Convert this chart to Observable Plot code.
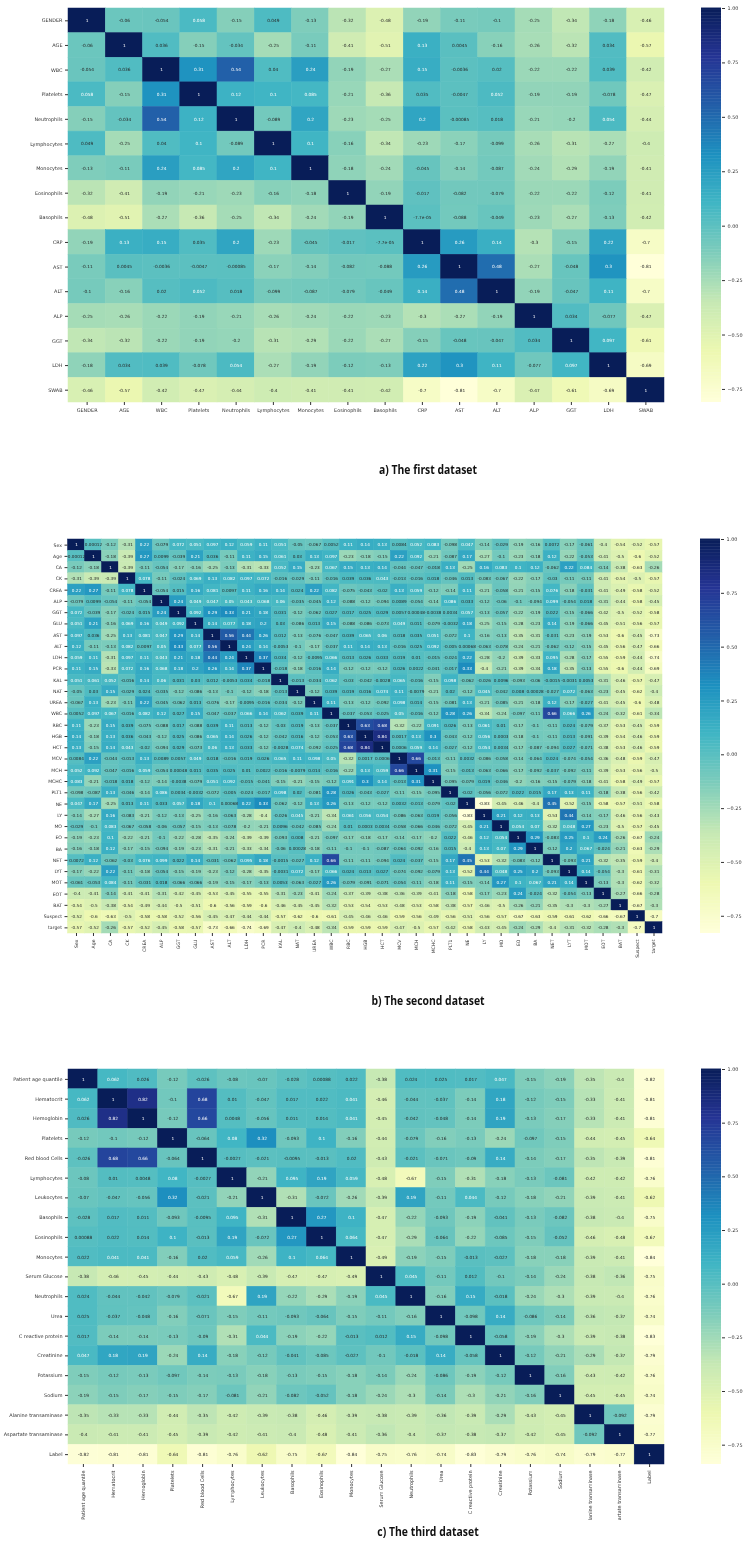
<!DOCTYPE html>
<html>
<head>
<meta charset="utf-8">
<script src="https://cdn.jsdelivr.net/npm/d3@7"></script>
<script src="https://cdn.jsdelivr.net/npm/@observablehq/plot@0.6"></script>
<style>
html,body{margin:0;padding:0;background:#fff}
#page{position:relative;width:746px;height:1545px;overflow:hidden;filter:blur(0.3px)}
#page svg{position:absolute;background:transparent}
.cap{position:absolute;left:228px;width:400px;text-align:center;font:bold 13px "Open Sans",sans-serif;color:#111;transform:scaleX(.8);white-space:nowrap}
</style>
</head>
<body>
<div id="page"></div>
<script>
const brewer = ["#ffffd9","#edf8b1","#c7e9b4","#7fcdbb","#41b6c4","#1d91c0","#225ea8","#253494","#081d58"];
const colorbarTicks = [-0.75,-0.5,-0.25,0,0.25,0.5,0.75,1];

const namesA = ["GENDER","AGE","WBC","Platelets","Neutrophils","Lymphocytes","Monocytes","Eosinophils","Basophils","CRP","AST","ALT","ALP","GGT","LDH","SWAB"];
const rowsA = [
[1,-0.06,-0.054,0.058,-0.15,0.049,-0.13,-0.32,-0.48,-0.19,-0.11,-0.1,-0.25,-0.34,-0.18,-0.46],
[-0.06,1,0.036,-0.15,-0.034,-0.25,-0.11,-0.41,-0.51,0.13,0.0045,-0.16,-0.26,-0.32,0.034,-0.57],
[-0.054,0.036,1,0.31,0.54,0.04,0.24,-0.19,-0.27,0.15,-0.0036,0.02,-0.22,-0.22,0.039,-0.42],
[0.058,-0.15,0.31,1,0.12,0.1,0.085,-0.21,-0.36,0.035,-0.0047,0.052,-0.19,-0.19,-0.078,-0.47],
[-0.15,-0.034,0.54,0.12,1,-0.089,0.2,-0.23,-0.25,0.2,-0.00085,0.018,-0.21,-0.2,0.054,-0.44],
[0.049,-0.25,0.04,0.1,-0.089,1,0.1,-0.16,-0.34,-0.23,-0.17,-0.099,-0.26,-0.31,-0.27,-0.4],
[-0.13,-0.11,0.24,0.085,0.2,0.1,1,-0.18,-0.24,-0.045,-0.14,-0.087,-0.24,-0.29,-0.19,-0.41],
[-0.32,-0.41,-0.19,-0.21,-0.23,-0.16,-0.18,1,-0.19,-0.017,-0.082,-0.079,-0.22,-0.22,-0.12,-0.41],
[-0.48,-0.51,-0.27,-0.36,-0.25,-0.34,-0.24,-0.19,1,-7.7e-05,-0.088,-0.049,-0.23,-0.27,-0.13,-0.42],
[-0.19,0.13,0.15,0.035,0.2,-0.23,-0.045,-0.017,-7.7e-05,1,0.26,0.14,-0.3,-0.15,0.22,-0.7],
[-0.11,0.0045,-0.0036,-0.0047,-0.00085,-0.17,-0.14,-0.082,-0.088,0.26,1,0.48,-0.27,-0.048,0.3,-0.81],
[-0.1,-0.16,0.02,0.052,0.018,-0.099,-0.087,-0.079,-0.049,0.14,0.48,1,-0.19,-0.047,0.11,-0.7],
[-0.25,-0.26,-0.22,-0.19,-0.21,-0.26,-0.24,-0.22,-0.23,-0.3,-0.27,-0.19,1,0.034,-0.077,-0.47],
[-0.34,-0.32,-0.22,-0.19,-0.2,-0.31,-0.29,-0.22,-0.27,-0.15,-0.048,-0.047,0.034,1,0.097,-0.61],
[-0.18,0.034,0.039,-0.078,0.054,-0.27,-0.19,-0.12,-0.13,0.22,0.3,0.11,-0.077,0.097,1,-0.69],
[-0.46,-0.57,-0.42,-0.47,-0.44,-0.4,-0.41,-0.41,-0.42,-0.7,-0.81,-0.7,-0.47,-0.61,-0.69,1]
];

const namesB = ["Sex","Age","CA","CK","CREA","ALP","GGT","GLU","AST","ALT","LDH","PCR","KAL","NAT","UREA","WBC","RBC","HGB","HCT","MCV","MCH","MCHC","PLT1","NE","LY","MO","EO","BA","NET","LYT","MOT","EOT","BAT","Suspect","target"];
const rowsB = [
[1,0.00012,-0.12,-0.31,0.22,-0.079,0.072,0.051,0.097,0.12,0.059,0.11,0.051,-0.05,-0.067,0.0052,0.11,0.14,0.13,0.0084,0.052,0.083,-0.098,0.047,-0.14,-0.029,-0.19,-0.16,0.0072,-0.17,-0.061,-0.4,-0.54,-0.52,-0.57],
[0.00012,1,-0.18,-0.39,0.27,0.0099,-0.039,0.21,0.036,-0.11,0.11,0.15,0.061,0.03,0.13,0.097,-0.23,-0.18,-0.15,0.22,0.092,-0.21,-0.087,0.17,-0.27,-0.1,-0.23,-0.18,0.12,-0.22,-0.053,-0.41,-0.5,-0.6,-0.52],
[-0.12,-0.18,1,-0.39,-0.11,-0.054,-0.17,-0.16,-0.25,-0.13,-0.31,-0.33,0.052,0.15,-0.23,0.067,0.15,0.13,0.14,-0.044,-0.047,-0.018,0.13,-0.25,0.16,0.083,0.1,0.12,-0.062,0.22,0.084,-0.14,-0.38,-0.63,-0.26],
[-0.31,-0.39,-0.39,1,0.078,-0.11,-0.024,0.069,0.13,0.082,0.097,0.072,-0.016,-0.029,-0.11,-0.016,0.039,0.036,0.043,-0.013,-0.016,0.018,-0.046,0.013,-0.083,-0.067,-0.22,-0.17,-0.03,-0.11,-0.11,-0.41,-0.54,-0.5,-0.57],
[0.22,0.27,-0.11,0.078,1,-0.054,0.015,0.16,0.081,0.0097,0.11,0.16,0.14,0.024,0.22,0.082,-0.075,-0.043,-0.02,0.13,0.059,-0.12,-0.14,0.11,-0.21,-0.058,-0.21,-0.15,0.076,-0.18,-0.031,-0.41,-0.49,-0.58,-0.52],
[-0.079,0.0099,-0.054,-0.11,-0.054,1,0.24,0.049,0.047,0.05,0.043,0.068,0.06,-0.035,-0.045,0.12,-0.088,-0.12,-0.094,0.0089,-0.054,-0.14,0.086,0.033,-0.12,-0.06,-0.1,-0.094,0.099,-0.054,0.018,-0.31,-0.44,-0.58,-0.45],
[0.072,-0.039,-0.17,-0.024,0.015,0.24,1,0.092,0.29,0.33,0.21,0.18,0.031,-0.12,-0.062,0.027,0.017,0.025,0.029,0.0057,0.00048,-0.0038,0.0034,0.057,-0.13,-0.057,-0.22,-0.19,0.022,-0.15,-0.066,-0.42,-0.5,-0.52,-0.58],
[0.051,0.21,-0.16,0.069,0.16,0.049,0.092,1,0.14,0.077,0.18,0.2,0.03,-0.086,0.013,0.15,-0.088,-0.086,-0.073,0.049,0.011,-0.079,-0.0032,0.18,-0.25,-0.15,-0.28,-0.23,0.14,-0.19,-0.066,-0.45,-0.51,-0.56,-0.57],
[0.097,0.036,-0.25,0.13,0.081,0.047,0.29,0.14,1,0.56,0.44,0.26,0.012,-0.13,-0.076,-0.047,0.039,0.065,0.06,0.018,0.035,0.051,-0.072,0.1,-0.16,-0.13,-0.35,-0.31,-0.031,-0.23,-0.19,-0.53,-0.6,-0.45,-0.73],
[0.12,-0.11,-0.13,0.082,0.0097,0.05,0.33,0.077,0.56,1,0.24,0.14,-0.0053,-0.1,-0.17,-0.037,0.11,0.14,0.13,-0.016,0.025,0.092,-0.005,0.00068,-0.063,-0.078,-0.24,-0.21,-0.062,-0.12,-0.15,-0.45,-0.56,-0.47,-0.66],
[0.059,0.11,-0.31,0.097,0.11,0.043,0.21,0.18,0.44,0.24,1,0.37,0.034,-0.12,-0.0095,0.066,0.013,0.026,0.033,0.019,0.01,-0.015,-0.024,0.22,-0.28,-0.2,-0.39,-0.33,0.095,-0.28,-0.17,-0.55,-0.59,-0.44,-0.74],
[0.11,0.15,-0.33,0.072,0.16,0.068,0.18,0.2,0.26,0.14,0.37,1,-0.018,-0.18,-0.016,0.14,-0.12,-0.12,-0.12,0.026,0.0022,-0.041,-0.017,0.33,-0.4,-0.21,-0.39,-0.34,0.18,-0.35,-0.13,-0.55,-0.6,-0.44,-0.69],
[0.051,0.061,0.052,-0.016,0.14,0.06,0.031,0.03,0.012,-0.0053,0.034,-0.018,1,-0.013,-0.034,0.062,-0.03,-0.042,-0.0028,0.065,-0.016,-0.15,0.098,-0.062,-0.026,0.0096,-0.093,-0.06,-0.0015,-0.0031,0.0053,-0.31,-0.46,-0.57,-0.47],
[-0.05,0.03,0.15,-0.029,0.024,-0.035,-0.12,-0.086,-0.13,-0.1,-0.12,-0.18,-0.013,1,-0.12,0.039,0.019,0.016,0.074,0.11,-0.0079,-0.21,0.02,-0.12,0.045,-0.042,0.008,0.00028,-0.027,0.072,-0.063,-0.23,-0.45,-0.62,-0.4],
[-0.067,0.13,-0.23,-0.11,0.22,-0.045,-0.062,0.013,-0.076,-0.17,-0.0095,-0.016,-0.034,-0.12,1,0.11,-0.13,-0.12,-0.092,0.098,0.014,-0.15,-0.081,0.13,-0.21,-0.085,-0.21,-0.18,0.12,-0.17,-0.027,-0.41,-0.45,-0.6,-0.48],
[0.0052,0.097,0.067,-0.016,0.082,0.12,0.027,0.15,-0.047,-0.037,0.066,0.14,0.062,0.039,0.11,1,-0.037,-0.053,-0.025,0.05,-0.016,-0.12,0.28,0.26,-0.34,-0.24,-0.097,-0.11,0.66,0.066,0.26,-0.24,-0.32,-0.61,-0.34],
[0.11,-0.23,0.15,0.039,-0.075,-0.088,0.017,-0.088,0.039,0.11,0.013,-0.12,-0.03,0.019,-0.13,-0.037,1,0.63,0.68,-0.32,-0.22,0.091,0.026,-0.13,0.061,0.01,-0.17,-0.1,-0.11,0.024,-0.079,-0.37,-0.53,-0.45,-0.59],
[0.14,-0.18,0.13,0.036,-0.043,-0.12,0.025,-0.086,0.065,0.14,0.026,-0.12,-0.042,0.016,-0.12,-0.053,0.63,1,0.84,0.0017,0.13,0.3,-0.043,-0.12,0.056,0.0003,-0.18,-0.1,-0.11,0.013,-0.091,-0.39,-0.54,-0.46,-0.59],
[0.13,-0.15,0.14,0.043,-0.02,-0.094,0.029,-0.073,0.06,0.13,0.033,-0.12,-0.0028,0.074,-0.092,-0.025,0.68,0.84,1,0.0006,0.059,0.14,-0.027,-0.12,0.054,0.0034,-0.17,-0.087,-0.094,0.027,-0.071,-0.38,-0.53,-0.46,-0.59],
[0.0084,0.22,-0.044,-0.013,0.13,0.0089,0.0057,0.049,0.018,-0.016,0.019,0.026,0.065,0.11,0.098,0.05,-0.32,0.0017,0.0006,1,0.66,-0.013,-0.11,0.0032,-0.086,-0.058,-0.14,-0.064,0.024,-0.074,-0.054,-0.36,-0.48,-0.59,-0.47],
[0.052,0.092,-0.047,-0.016,0.059,-0.054,0.00048,0.011,0.035,0.025,0.01,0.0022,-0.016,-0.0079,0.014,-0.016,-0.22,0.13,0.059,0.66,1,0.31,-0.15,-0.013,-0.063,-0.066,-0.17,-0.092,-0.037,-0.092,-0.11,-0.39,-0.53,-0.56,-0.5],
[0.083,-0.21,-0.018,0.018,-0.12,-0.14,-0.0038,-0.079,0.051,0.092,-0.015,-0.041,-0.15,-0.21,-0.15,-0.12,0.091,0.3,0.14,-0.013,0.31,1,-0.095,-0.079,0.019,-0.046,-0.2,-0.16,-0.15,-0.079,-0.18,-0.41,-0.58,-0.49,-0.57],
[-0.098,-0.087,0.13,-0.046,-0.14,0.086,0.0034,-0.0032,-0.072,-0.005,-0.024,-0.017,0.098,0.02,-0.081,0.28,0.026,-0.043,-0.027,-0.11,-0.15,-0.095,1,-0.02,-0.056,-0.072,0.022,0.015,0.17,0.13,0.11,-0.18,-0.38,-0.56,-0.42],
[0.047,0.17,-0.25,0.013,0.11,0.033,0.057,0.18,0.1,0.00068,0.22,0.33,-0.062,-0.12,0.13,0.26,-0.13,-0.12,-0.12,0.0032,-0.013,-0.079,-0.02,1,-0.83,-0.45,-0.46,-0.4,0.45,-0.52,-0.15,-0.58,-0.57,-0.51,-0.58],
[-0.14,-0.27,0.16,-0.083,-0.21,-0.12,-0.13,-0.25,-0.16,-0.063,-0.28,-0.4,-0.026,0.045,-0.21,-0.34,0.061,0.056,0.054,-0.086,-0.063,0.019,-0.056,-0.83,1,0.21,0.12,0.13,-0.53,0.44,-0.14,-0.17,-0.46,-0.56,-0.43],
[-0.029,-0.1,0.083,-0.067,-0.058,-0.06,-0.057,-0.15,-0.13,-0.078,-0.2,-0.21,0.0096,-0.042,-0.085,-0.24,0.01,0.0003,0.0034,-0.058,-0.066,-0.046,-0.072,-0.45,0.21,1,0.054,0.07,-0.32,0.048,0.27,-0.23,-0.5,-0.57,-0.45],
[-0.19,-0.23,0.1,-0.22,-0.21,-0.1,-0.22,-0.28,-0.35,-0.24,-0.39,-0.39,-0.093,0.008,-0.21,-0.097,-0.17,-0.18,-0.17,-0.14,-0.17,-0.2,0.022,-0.46,0.12,0.054,1,0.29,-0.083,0.25,0.1,0.24,-0.26,-0.67,-0.24],
[-0.16,-0.18,0.12,-0.17,-0.15,-0.094,-0.19,-0.23,-0.31,-0.21,-0.33,-0.34,-0.06,0.00028,-0.18,-0.11,-0.1,-0.1,-0.087,-0.064,-0.092,-0.16,0.015,-0.4,0.13,0.07,0.29,1,-0.12,0.2,0.067,-0.024,-0.21,-0.63,-0.29],
[0.0072,0.12,-0.062,-0.03,0.076,0.099,0.022,0.14,-0.031,-0.062,0.095,0.18,-0.0015,-0.027,0.12,0.66,-0.11,-0.11,-0.094,0.024,-0.037,-0.15,0.17,0.45,-0.53,-0.32,-0.083,-0.12,1,-0.093,0.21,-0.32,-0.35,-0.59,-0.4],
[-0.17,-0.22,0.22,-0.11,-0.18,-0.054,-0.15,-0.19,-0.23,-0.12,-0.28,-0.35,-0.0031,0.072,-0.17,0.066,0.024,0.013,0.027,-0.074,-0.092,-0.079,0.13,-0.52,0.44,0.048,0.25,0.2,-0.093,1,0.14,-0.054,-0.3,-0.61,-0.31],
[-0.061,-0.053,0.084,-0.11,-0.031,0.018,-0.066,-0.066,-0.19,-0.15,-0.17,-0.13,0.0053,-0.063,-0.027,0.26,-0.079,-0.091,-0.071,-0.054,-0.11,-0.18,0.11,-0.15,-0.14,0.27,0.1,0.067,0.21,0.14,1,-0.13,-0.3,-0.62,-0.32],
[-0.4,-0.41,-0.14,-0.41,-0.41,-0.31,-0.42,-0.45,-0.53,-0.45,-0.55,-0.55,-0.31,-0.23,-0.41,-0.24,-0.37,-0.39,-0.38,-0.36,-0.39,-0.41,-0.18,-0.58,-0.17,-0.23,0.24,-0.024,-0.32,-0.054,-0.13,1,-0.27,-0.66,-0.28],
[-0.54,-0.5,-0.38,-0.54,-0.49,-0.44,-0.5,-0.51,-0.6,-0.56,-0.59,-0.6,-0.46,-0.45,-0.45,-0.32,-0.53,-0.54,-0.53,-0.48,-0.53,-0.58,-0.38,-0.57,-0.46,-0.5,-0.26,-0.21,-0.35,-0.3,-0.3,-0.27,1,-0.67,-0.3],
[-0.52,-0.6,-0.63,-0.5,-0.58,-0.58,-0.52,-0.56,-0.45,-0.47,-0.44,-0.44,-0.57,-0.62,-0.6,-0.61,-0.45,-0.46,-0.46,-0.59,-0.56,-0.49,-0.56,-0.51,-0.56,-0.57,-0.67,-0.63,-0.59,-0.61,-0.62,-0.66,-0.67,1,-0.7],
[-0.57,-0.52,-0.26,-0.57,-0.52,-0.45,-0.58,-0.57,-0.73,-0.66,-0.74,-0.69,-0.47,-0.4,-0.48,-0.34,-0.59,-0.59,-0.59,-0.47,-0.5,-0.57,-0.42,-0.58,-0.43,-0.45,-0.24,-0.29,-0.4,-0.31,-0.32,-0.28,-0.3,-0.7,1]
];

const namesC = ["Patient age quantile","Hematocrit","Hemoglobin","Platelets","Red blood Cells","Lymphocytes","Leukocytes","Basophils","Eosinophils","Monocytes","Serum Glucose","Neutrophils","Urea","C reactive protein","Creatinine","Potassium","Sodium","Alanine transaminase","Aspartate transaminase","Label"];
const xLabelsC = ["Patient age quantile","Hematocrit","Hemoglobin","Platelets","Red blood Cells","Lymphocytes","Leukocytes","Basophils","Eosinophils","Monocytes","Serum Glucose","Neutrophils","Urea","C reactive protein","Creatinine","Potassium","Sodium","lanine transaminase","artate transaminase","Label"];
const rowsC = [
[1,0.062,0.026,-0.12,-0.026,-0.08,-0.07,-0.028,0.00088,0.022,-0.38,0.024,0.025,0.017,0.047,-0.15,-0.19,-0.35,-0.4,-0.82],
[0.062,1,0.82,-0.1,0.68,0.01,-0.047,0.017,0.022,0.041,-0.46,-0.044,-0.037,-0.14,0.18,-0.12,-0.15,-0.33,-0.41,-0.81],
[0.026,0.82,1,-0.12,0.66,0.0048,-0.056,0.011,0.014,0.041,-0.45,-0.042,-0.048,-0.14,0.19,-0.13,-0.17,-0.33,-0.41,-0.81],
[-0.12,-0.1,-0.12,1,-0.064,0.08,0.32,-0.093,0.1,-0.16,-0.44,-0.079,-0.16,-0.13,-0.24,-0.097,-0.15,-0.44,-0.45,-0.64],
[-0.026,0.68,0.66,-0.064,1,-0.0027,-0.021,-0.0095,-0.013,0.02,-0.43,-0.021,-0.071,-0.09,0.14,-0.14,-0.17,-0.35,-0.39,-0.81],
[-0.08,0.01,0.0048,0.08,-0.0027,1,-0.21,0.095,0.19,0.059,-0.48,-0.67,-0.15,-0.31,-0.18,-0.13,-0.081,-0.42,-0.42,-0.76],
[-0.07,-0.047,-0.056,0.32,-0.021,-0.21,1,-0.31,-0.072,-0.26,-0.39,0.19,-0.11,0.044,-0.12,-0.18,-0.21,-0.39,-0.41,-0.62],
[-0.028,0.017,0.011,-0.093,-0.0095,0.095,-0.31,1,0.27,0.1,-0.47,-0.22,-0.093,-0.19,-0.041,-0.13,-0.082,-0.38,-0.4,-0.75],
[0.00088,0.022,0.014,0.1,-0.013,0.19,-0.072,0.27,1,0.064,-0.47,-0.29,-0.064,-0.22,-0.085,-0.15,-0.052,-0.46,-0.48,-0.67],
[0.022,0.041,0.041,-0.16,0.02,0.059,-0.26,0.1,0.064,1,-0.49,-0.19,-0.15,-0.013,-0.027,-0.18,-0.18,-0.39,-0.41,-0.84],
[-0.38,-0.46,-0.45,-0.44,-0.43,-0.48,-0.39,-0.47,-0.47,-0.49,1,0.045,-0.11,0.012,-0.1,-0.14,-0.24,-0.38,-0.36,-0.75],
[0.024,-0.044,-0.042,-0.079,-0.021,-0.67,0.19,-0.22,-0.29,-0.19,0.045,1,-0.16,0.15,-0.018,-0.24,-0.3,-0.39,-0.4,-0.76],
[0.025,-0.037,-0.048,-0.16,-0.071,-0.15,-0.11,-0.093,-0.064,-0.15,-0.11,-0.16,1,-0.098,0.14,-0.086,-0.14,-0.36,-0.37,-0.74],
[0.017,-0.14,-0.14,-0.13,-0.09,-0.31,0.044,-0.19,-0.22,-0.013,0.012,0.15,-0.098,1,-0.058,-0.19,-0.3,-0.39,-0.38,-0.83],
[0.047,0.18,0.19,-0.24,0.14,-0.18,-0.12,-0.041,-0.085,-0.027,-0.1,-0.018,0.14,-0.058,1,-0.12,-0.21,-0.29,-0.37,-0.79],
[-0.15,-0.12,-0.13,-0.097,-0.14,-0.13,-0.18,-0.13,-0.15,-0.18,-0.14,-0.24,-0.086,-0.19,-0.12,1,-0.16,-0.43,-0.42,-0.76],
[-0.19,-0.15,-0.17,-0.15,-0.17,-0.081,-0.21,-0.082,-0.052,-0.18,-0.24,-0.3,-0.14,-0.3,-0.21,-0.16,1,-0.45,-0.45,-0.74],
[-0.35,-0.33,-0.33,-0.44,-0.35,-0.42,-0.39,-0.38,-0.46,-0.39,-0.38,-0.39,-0.36,-0.39,-0.29,-0.43,-0.45,1,-0.092,-0.79],
[-0.4,-0.41,-0.41,-0.45,-0.39,-0.42,-0.41,-0.4,-0.48,-0.41,-0.36,-0.4,-0.37,-0.38,-0.37,-0.42,-0.45,-0.092,1,-0.77],
[-0.82,-0.81,-0.81,-0.64,-0.81,-0.76,-0.62,-0.75,-0.67,-0.84,-0.75,-0.76,-0.74,-0.83,-0.79,-0.76,-0.74,-0.79,-0.77,1]
];

const page = document.getElementById("page");
const FONT = '"DejaVu Sans", sans-serif';

function annot(v) {
  if (Math.abs(v) < 1e-4) return v.toExponential(1).replace(/e-(\d)$/, "e-0$1");
  return String(v);
}
function luminance(c) {
  const lin = x => { x /= 255; return x <= 0.03928 ? x / 12.92 : Math.pow((x + 0.055) / 1.055, 2.4); };
  const o = d3.rgb(c);
  return 0.2126 * lin(o.r) + 0.7152 * lin(o.g) + 0.0722 * lin(o.b);
}

function heatmap({names, rows, xFormat, top, inner, left, right, annotSize, tickSize, rotate, bottom, barLeft, barWidth}) {
  const lo = d3.min(rows.flat());
  const domain = brewer.map((_, i) => lo + (i / 8) * (1 - lo));
  const colorOf = d3.scaleLinear().domain(domain).range(brewer);
  const cells = rows.flatMap((r, i) => r.map((v, j) => ({
    col: names[j], row: names[i], v, label: annot(v), dark: luminance(colorOf(v)) >= 0.408
  })));
  const color = {type: "linear", domain, range: brewer, clamp: true};
  const chart = Plot.plot({
    width: 746, height: 8 + inner + bottom,
    marginTop: 8, marginBottom: bottom, marginLeft: left, marginRight: right,
    style: {fontFamily: FONT, background: "transparent", color: "#333"},
    x: {domain: names, padding: 0, round: false, label: null},
    y: {domain: names, padding: 0, round: false, label: null},
    color,
    marks: [
      Plot.cell(cells, {x: "col", y: "row", fill: "v", stroke: "v", strokeWidth: 0.5, inset: 0}),
      Plot.text(cells.filter(d => d.dark), {x: "col", y: "row", text: "label", fontSize: annotSize, fill: "#262626"}),
      Plot.text(cells.filter(d => !d.dark), {x: "col", y: "row", text: "label", fontSize: annotSize, fill: "#ffffff"}),
      Plot.axisX({anchor: "bottom", label: null, tickSize: 3, tickPadding: 3, fontSize: tickSize, tickRotate: rotate, tickFormat: xFormat, stroke: "#333"}),
      Plot.axisY({anchor: "left", label: null, tickSize: 3, tickPadding: 3, fontSize: tickSize, stroke: "#333"})
    ]
  });
  chart.style.left = "0px";
  chart.style.top = (top - 8) + "px";
  page.appendChild(chart);

  const step = (1 - lo) / 256;
  const bar = Plot.plot({
    width: barWidth + 40, height: 8 + inner + 8,
    marginTop: 8, marginBottom: 8, marginLeft: 0, marginRight: 40,
    style: {fontFamily: FONT, background: "transparent", color: "#333"},
    x: {domain: [0, 1], axis: null},
    y: {domain: [lo, 1], label: null},
    color,
    marks: [
      Plot.rect(d3.range(256).map(i => lo + i * step), {
        x1: 0, x2: 1, y1: d => d, y2: d => d + step * 1.3, fill: d => d
      }),
      Plot.axisY({anchor: "right", ticks: colorbarTicks, tickFormat: d3.format(".2f"), label: null, tickSize: 3, tickPadding: 3, fontSize: 4.9, stroke: "#333"})
    ]
  });
  bar.style.left = barLeft + "px";
  bar.style.top = (top - 8) + "px";
  page.appendChild(bar);
}

heatmap({names: namesA, rows: rowsA, top: 8, inner: 394, left: 68, right: 82, annotSize: 4.3, tickSize: 4.9, rotate: 0, bottom: 30, barLeft: 701, barWidth: 20});
heatmap({names: namesB, rows: rowsB, top: 539, inner: 394, left: 67.5, right: 84, annotSize: 4.2, tickSize: 4.6, rotate: -90, bottom: 40, barLeft: 699.5, barWidth: 20});
heatmap({names: namesC, rows: rowsC, xFormat: d => xLabelsC[namesC.indexOf(d)], top: 1069, inner: 395, left: 68, right: 82, annotSize: 4.3, tickSize: 4.9, rotate: -90, bottom: 60, barLeft: 701, barWidth: 20});

for (const [text, y] of [["a) The first dataset", 460], ["b) The second dataset", 991], ["c) The third dataset", 1522]]) {
  const d = document.createElement("div");
  d.className = "cap";
  d.style.top = y + "px";
  d.textContent = text;
  page.appendChild(d);
}
</script>
</body>
</html>
